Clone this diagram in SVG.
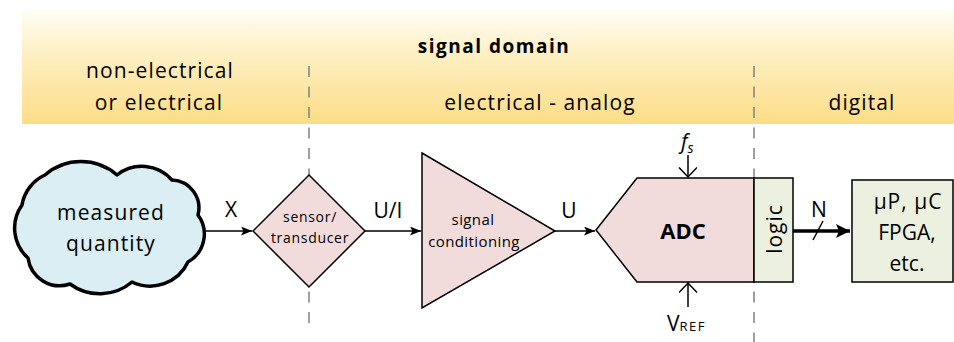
<svg xmlns="http://www.w3.org/2000/svg" width="954" height="342" viewBox="0 0 954 342">
  <style>
    text { font-family: "Open Sans", "Liberation Sans", sans-serif; fill: #000; }
    .hdr { font-size: 21px; letter-spacing: 1.1px; text-anchor: middle; }
    .title { font-size: 19px; font-weight: bold; letter-spacing: 1.5px; text-anchor: middle; }
    .lbl { font-size: 21px; text-anchor: middle; }
    .small { font-size: 14px; letter-spacing: 0.7px; text-anchor: middle; }
    .mid { font-size: 15px; letter-spacing: 0.4px; text-anchor: middle; }
    .node { stroke: #000; stroke-width: 1.5; stroke-linejoin: miter; }
    .pink { fill: #f2dcdb; }
    .green { fill: #ebf1de; }
    .divider { stroke: #808080; stroke-width: 1.5; stroke-dasharray: 11 9.5; fill: none; }
    .wire { stroke: #000; stroke-width: 1.5; fill: none; }
  </style>
  <defs>
    <linearGradient id="bandGrad" x1="0" y1="0" x2="0" y2="1">
      <stop offset="0" stop-color="#fffdf4"/>
      <stop offset="0.45" stop-color="#feeebd"/>
      <stop offset="1" stop-color="#fcdd86"/>
    </linearGradient>
    <marker id="arrow" markerUnits="userSpaceOnUse" markerWidth="12" markerHeight="10" refX="11" refY="4.5" orient="auto">
      <path d="M0,0 L11,4.5 L0,9 L2.5,4.5 z" fill="#000"/>
    </marker>
    <marker id="arrowThick" markerUnits="userSpaceOnUse" markerWidth="15" markerHeight="15" refX="14" refY="7" orient="auto">
      <path d="M0,0 L14,7 L0,14 L3,7 z" fill="#000"/>
    </marker>
    <marker id="chevron" markerUnits="userSpaceOnUse" markerWidth="12" markerHeight="20" refX="10.5" refY="9" orient="auto">
      <path d="M0.5,0 L10,9 L0.5,18" fill="none" stroke="#000" stroke-width="1.5"/>
    </marker>
  </defs>

  <g id="domain-band">
    <rect x="22" y="10" width="932" height="114" fill="url(#bandGrad)"/>
    <text class="title" x="494" y="53">signal domain</text>
    <text class="hdr" x="160" y="78">non-electrical</text>
    <text class="hdr" x="159" y="110">or electrical</text>
    <text class="hdr" x="540" y="110">electrical - analog</text>
    <text class="hdr" x="862" y="110">digital</text>
  </g>

  <g id="dividers">
    <line class="divider" x1="309" y1="66" x2="309" y2="330"/>
    <line class="divider" x1="754" y1="66" x2="754" y2="342"/>
  </g>

  <g id="connectors">
    <line class="wire" x1="203" y1="231" x2="252" y2="231" marker-end="url(#arrow)"/>
    <text class="lbl" x="231" y="217">X</text>
    <line class="wire" x1="365" y1="231" x2="421" y2="231" marker-end="url(#arrow)"/>
    <text class="lbl" x="388" y="218">U/I</text>
    <line class="wire" x1="555" y1="231" x2="595" y2="231" marker-end="url(#arrow)"/>
    <text class="lbl" x="569" y="218">U</text>
    <line x1="793" y1="231" x2="850" y2="231" stroke="#000" stroke-width="3.5" marker-end="url(#arrowThick)"/>
    <line x1="813" y1="240" x2="823" y2="221" stroke="#000" stroke-width="1.5"/>
    <text class="lbl" x="819" y="217">N</text>
    <line class="wire" x1="688" y1="155" x2="688" y2="177.5" marker-end="url(#chevron)"/>
    <text x="681" y="149" font-size="21" font-style="italic">f<tspan font-size="14" dy="4">s</tspan></text>
    <line class="wire" x1="688" y1="307" x2="688" y2="282.5" marker-end="url(#chevron)"/>
    <text x="667" y="331" font-size="21">V<tspan font-size="13" letter-spacing="1.5">REF</tspan></text>
  </g>

  <g id="measured-quantity">
    <path d="M22,205 A40,40 0 0 1 45,175 A55,55 0 0 1 117,175 A40,40 0 0 1 172,180 A28,28 0 0 1 198,215 A32,32 0 0 1 188,262 A42,42 0 0 1 132,282 A50,50 0 0 1 70,284 A32,32 0 0 1 28,258 A40,40 0 0 1 22,205 Z" fill="#daeef3" stroke="#000" stroke-width="3.5" stroke-linejoin="round"/>
    <text class="hdr" x="111" y="220">measured</text>
    <text class="hdr" x="111" y="251">quantity</text>
  </g>

  <g id="sensor">
    <polygon class="node pink" points="253,231 309,175 365,231 309,287"/>
    <text class="small" x="310" y="222">sensor/</text>
    <text class="small" x="310" y="243">transducer</text>
  </g>

  <g id="signal-conditioning">
    <polygon class="node pink" points="422,153 555,231 422,308"/>
    <text class="mid" x="473" y="225">signal</text>
    <text class="mid" x="474" y="247">conditioning</text>
  </g>

  <g id="adc">
    <polygon class="node pink" points="596,230 637,178 754,178 754,282 637,282"/>
    <text x="683" y="239" font-size="22" font-weight="bold" text-anchor="middle">ADC</text>
  </g>

  <g id="logic">
    <rect class="node green" x="754" y="178" width="39" height="104"/>
    <text x="0" y="0" font-size="21" letter-spacing="1" text-anchor="middle" transform="translate(782,229) rotate(-90)">logic</text>
  </g>

  <g id="processor">
    <rect class="node green" x="852" y="180" width="101" height="102"/>
    <text class="lbl" x="908" y="209" letter-spacing="1">μP, μC</text>
    <text class="lbl" x="907" y="240">FPGA,</text>
    <text class="lbl" x="907" y="271">etc.</text>
  </g>
</svg>
